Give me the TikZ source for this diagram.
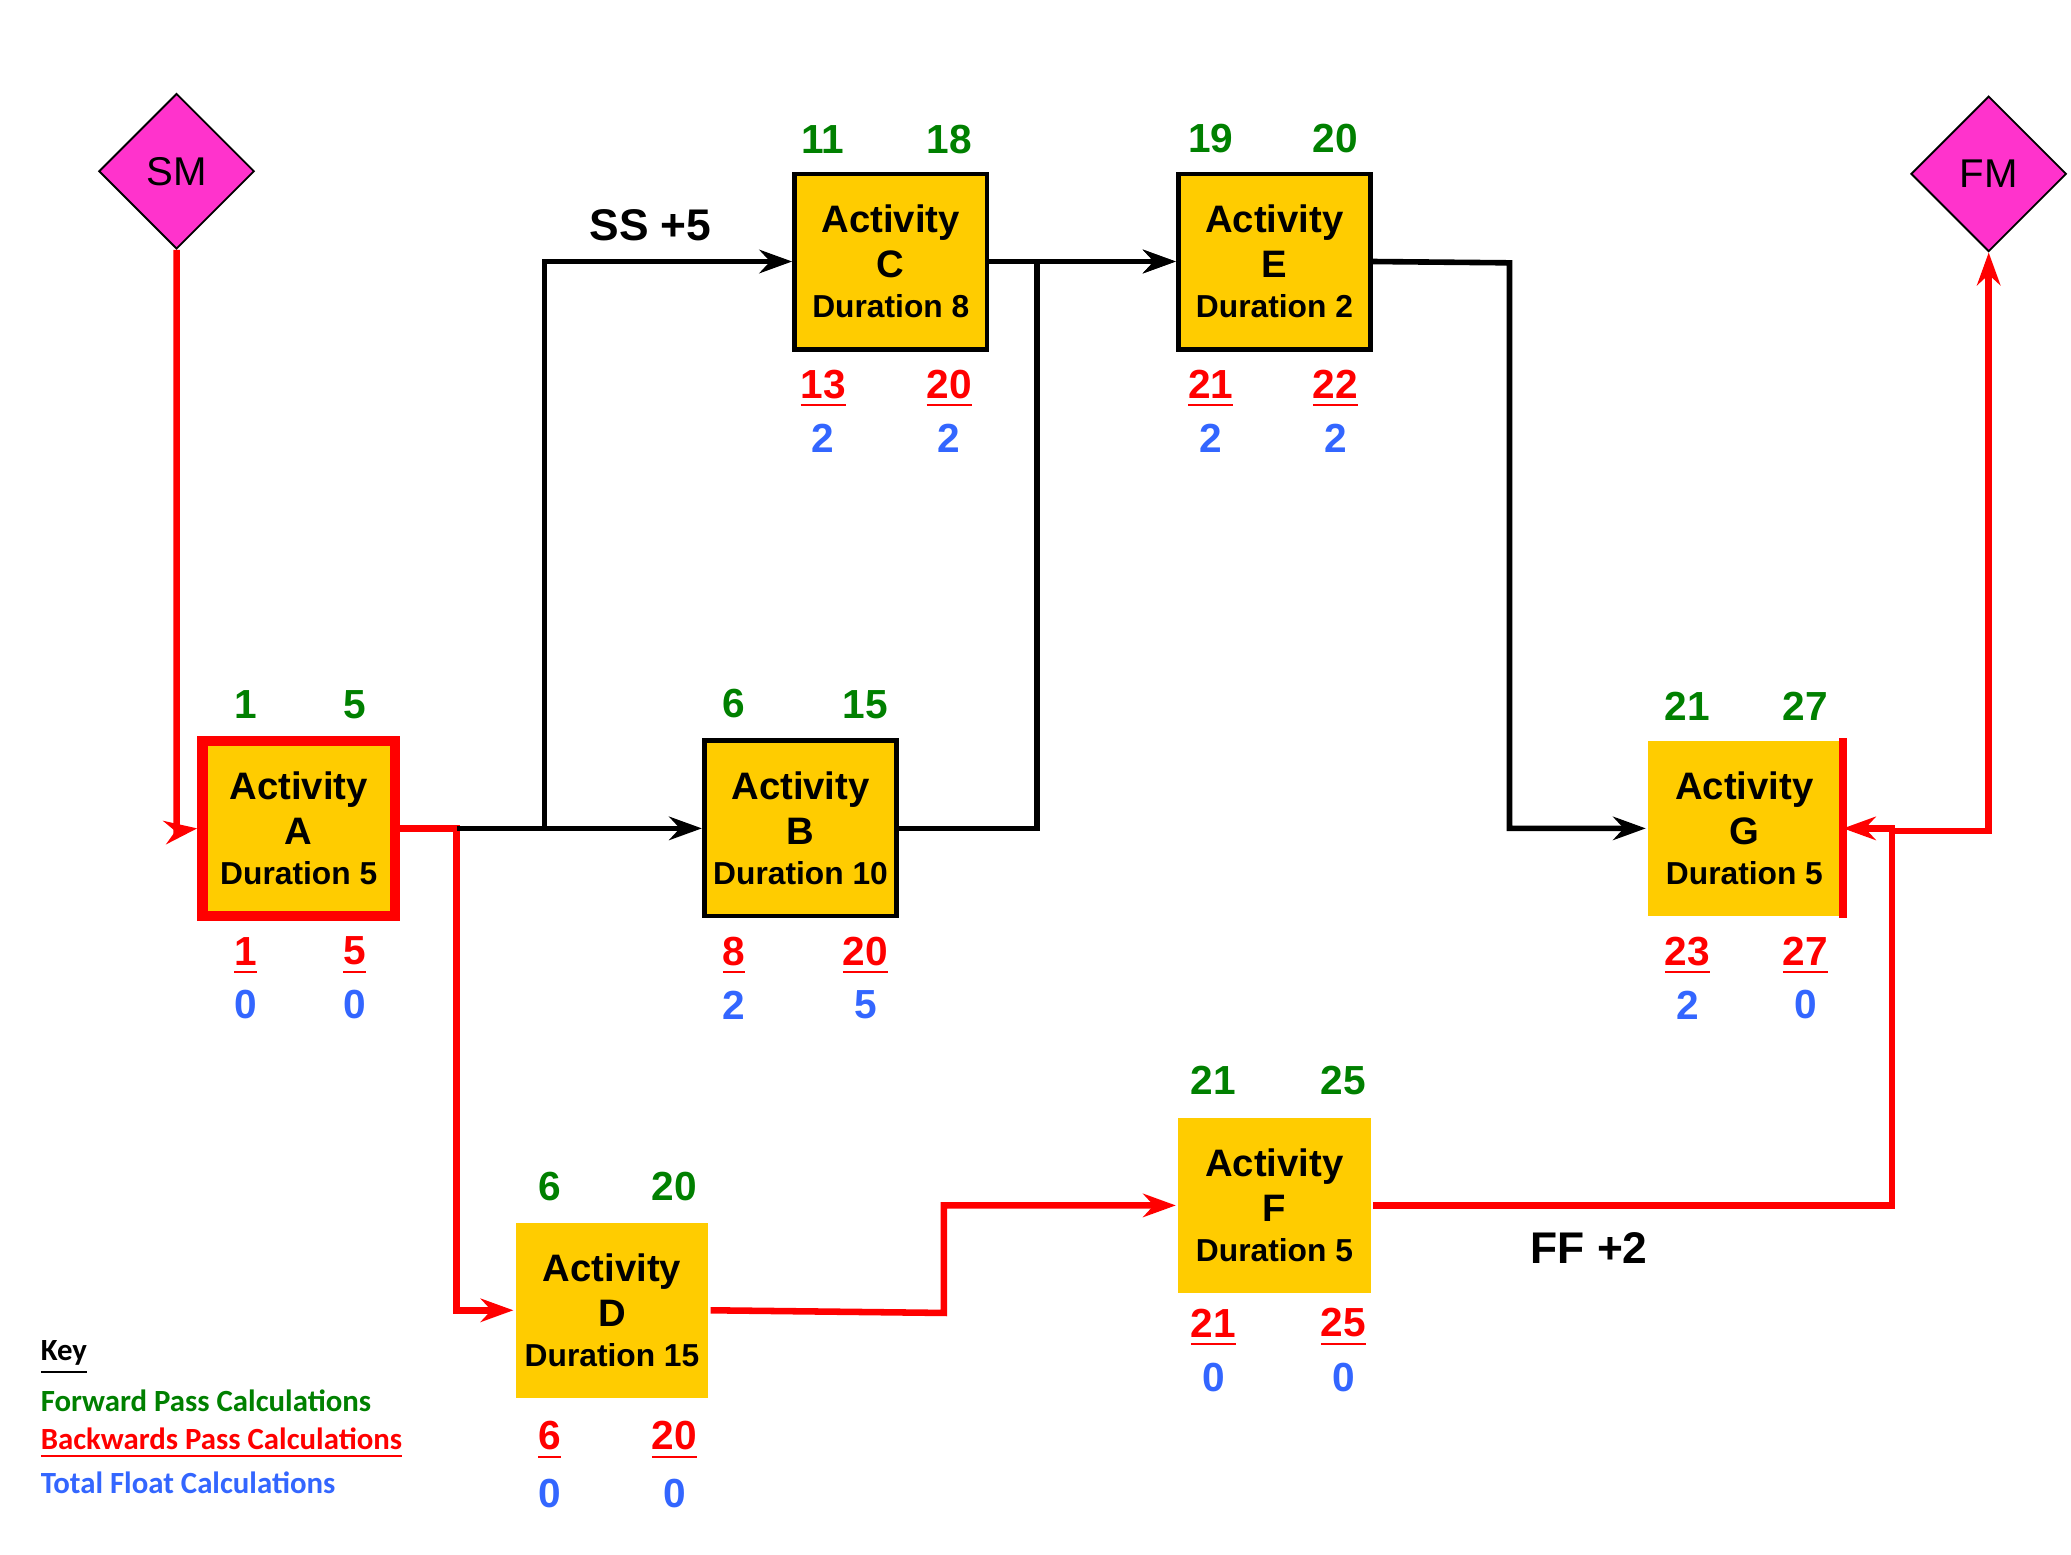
\documentclass[tikz,border=0pt]{standalone}
\usepackage{fontspec}
\setmainfont{Liberation Sans}
\newfontfamily\keyfont{Carlito}
\usetikzlibrary{shapes.geometric,arrows.meta}
\definecolor{fgreen}{RGB}{0,128,0}
\definecolor{bred}{RGB}{255,0,0}
\definecolor{tblue}{RGB}{51,102,255}
\definecolor{gold}{RGB}{255,204,0}
\definecolor{mag}{RGB}{255,51,204}
\begin{document}
\begin{tikzpicture}[x=0.01cm,y=-0.01cm,
 act/.style={draw=black,line width=1pt,fill=gold,minimum width=1.45cm,minimum height=1.32cm,inner sep=0pt,align=center,font=\bfseries\fontsize{8.2}{9.6}\selectfont},
 ms/.style={diamond,draw=black,fill=mag,minimum width=1.17cm,minimum height=1.17cm,inner sep=0pt,font=\fontsize{8.6}{10}\selectfont},
 num/.style={font=\bfseries\fontsize{8.7}{10}\selectfont,inner sep=0pt},
 gn/.style={num,text=fgreen}, rn/.style={num,text=bred}, bn/.style={num,text=tblue},
 blk/.style={draw=black,line width=1.2pt,-{Stealth[length=7pt,width=5pt]}},
 red/.style={draw=bred,line width=1.4pt,-{Stealth[length=7pt,width=5pt]}},
 key/.style={font=\keyfont\bfseries\fontsize{6.6}{8}\selectfont,anchor=west,inner sep=0pt},
 lab/.style={font=\bfseries\fontsize{9.5}{11}\selectfont}]
\useasboundingbox (0,0) rectangle (1560,1171);
\newcommand\dur[1]{\\[-1pt]{\fontsize{6.8}{8}\selectfont Duration #1}}
\node[ms] (SM) at (133,129) {SM};
\node[ms] (FM) at (1498,131) {FM};
\node[act,draw=bred,line width=2.2pt] (A) at (225,624) {Activity\\A\dur{5}};
\node[act] (B) at (603,624) {Activity\\B\dur{10}};
\node[act] (C) at (671,197) {Activity\\C\dur{8}};
\node[act] (E) at (960,197) {Activity\\E\dur{2}};
\node[act,draw=none] (G) at (1314,624) {Activity\\G\dur{5}};
\draw[bred,line width=1.6pt] (G.north east) -- (G.south east);
\node[act,draw=none] (D) at (461,987) {Activity\\D\dur{15}};
\node[act,draw=none] (F) at (960,908) {Activity\\F\dur{5}};
% numbers
\newcommand\nums[9]{%
 \node[gn] at (#1,#3) {#5}; \node[gn] at (#2,#3) {#6};
 \node[rn] at (#1,#4) {\underline{#7}}; \node[rn] at (#2,#4) {\underline{#8}};
 \node[bn] at (#1,#4+37) {#9};}
\newcommand\bl[2]{\node[bn] at (#1) {#2};}
\node[gn] at (185,531){1};\node[gn] at (267,531){5};\node[rn] at (185,720){\underline{1}};\node[rn] at (267,720){\underline{5}};\node[bn] at (185,757){0};\node[bn] at (267,757){0};
\node[gn] at (553,530){6};\node[gn] at (652,531){15};\node[rn] at (553,720){\underline{8}};\node[rn] at (652,720){\underline{20}};\node[bn] at (553,757){2};\node[bn] at (652,757){5};
\node[gn] at (620,105){11};\node[gn] at (715,105){18};\node[rn] at (620,293){\underline{13}};\node[rn] at (715,293){\underline{20}};\node[bn] at (620,330){2};\node[bn] at (715,330){2};
\node[gn] at (912,104){19};\node[gn] at (1006,104){20};\node[rn] at (912,293){\underline{21}};\node[rn] at (1006,293){\underline{22}};\node[bn] at (912,330){2};\node[bn] at (1006,330){2};
\node[gn] at (1271,532){21};\node[gn] at (1360,532){27};\node[rn] at (1271,720){\underline{23}};\node[rn] at (1360,720){\underline{27}};\node[bn] at (1271,757){2};\node[bn] at (1360,757){0};
\node[gn] at (414,894){6};\node[gn] at (508,894){20};\node[rn] at (414,1085){\underline{6}};\node[rn] at (508,1085){\underline{20}};\node[bn] at (414,1125){0};\node[bn] at (508,1125){0};
\node[gn] at (914,814){21};\node[gn] at (1012,814){25};\node[rn] at (914,1000){\underline{21}};\node[rn] at (1012,1000){\underline{25}};\node[bn] at (914,1038){0};\node[bn] at (1012,1038){0};
% connectors
\coordinate (j1) at (344,624);
\coordinate (j2) at (410,624);
\draw[red] (SM.south) -- (133,626) -- (A.west);
\draw[red] (A.east) -- (j1) |- (D.west);
\draw[blk,-] (j1) -- (j2);
\draw[blk] (j2) -- (B.west);
\draw[blk] (j2) |- (C.west);
\draw[blk] (B.east) -- (781,624) |- (E.west);
\draw[blk] (C.east) -- (E.west);
\draw[blk] (E.east) -- (1137,198) |- (G.west);
\draw[red] (D.east) -- (711,989) |- (F.west);
\draw[red] (F.east) -- (1425,908) |- (G.east);
\draw[red] (1425,626) -- (1498,626) -- (FM.south);
\node[lab] at (490,170) {SS +5};
\node[lab] at (1197,940) {FF +2};
\node[key] at (30,1023) {\underline{Key}};
\node[key,text=fgreen] at (30,1055) {Forward Pass Calculations};
\node[key,text=bred] at (30,1087) {\underline{Backwards Pass Calculations}};
\node[key,text=tblue] at (30,1117) {Total Float Calculations};
\end{tikzpicture}
\end{document}
